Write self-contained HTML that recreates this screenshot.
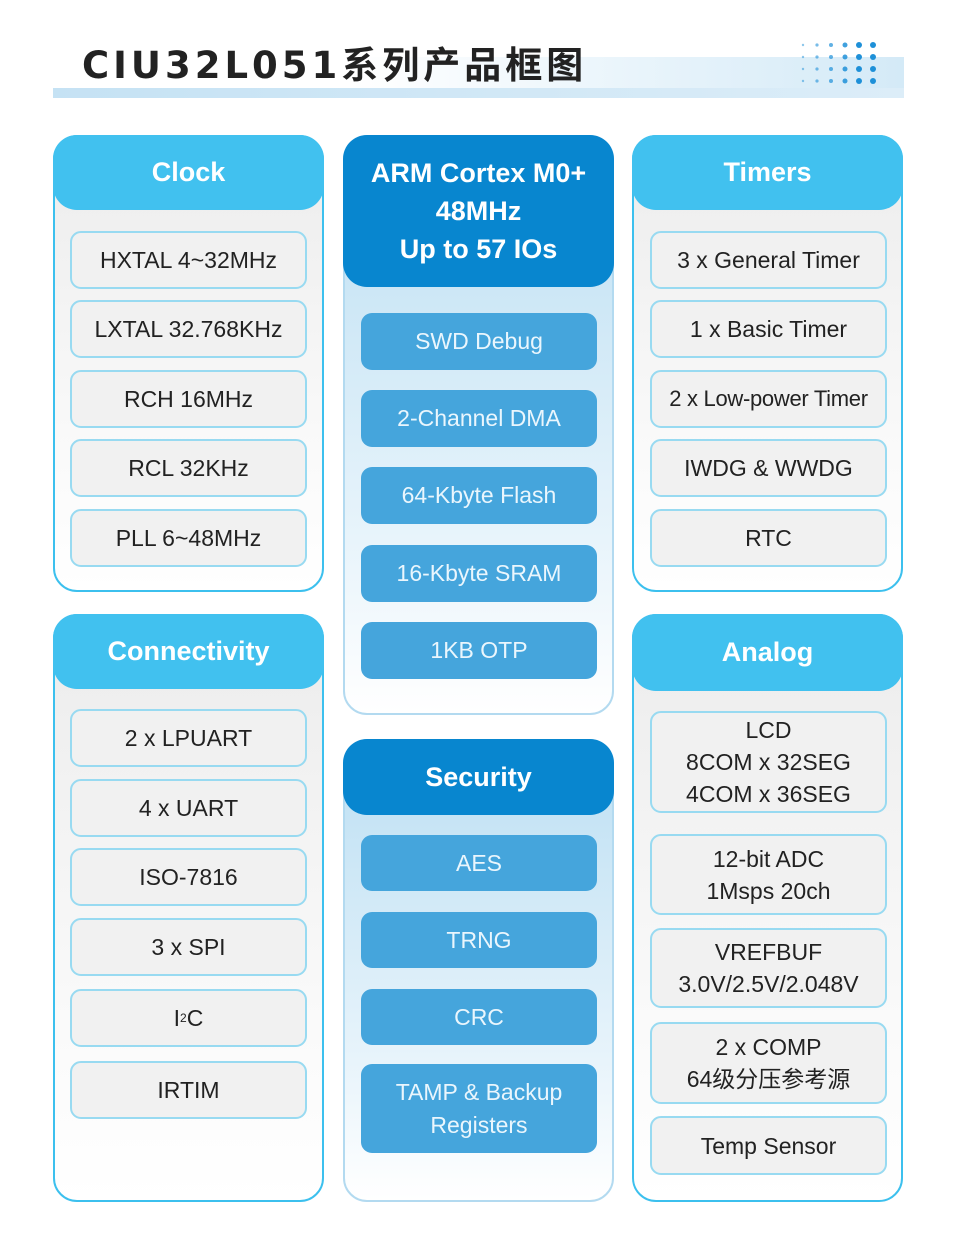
<!DOCTYPE html>
<html><head><meta charset="utf-8"><style>
body{margin:0;width:955px;height:1260px;background:#fff;position:relative;overflow:hidden;font-family:"Liberation Sans","Noto Sans CJK SC",sans-serif}
.a{position:absolute;box-sizing:border-box}
.panel{border:2px solid #3cc0ee;border-radius:24px;background:linear-gradient(#ececec,#fafafa 70%,#fff)}
.cpanel{border:2px solid #b3daf0;border-radius:24px;background:linear-gradient(#bcdff3,#e8f4fb 70%,#fff)}
.hd{border-radius:24px;background:#41c1ef;color:#fff;font-weight:bold;font-size:27px;display:flex;align-items:center;justify-content:center;text-align:center}
.chd{border-radius:24px;background:#0886cf;color:#fff;font-weight:bold;font-size:27px;display:flex;align-items:center;justify-content:center;text-align:center;line-height:38px}
.it{border:2px solid #98daf1;border-radius:11px;background:#f1f1f1;color:#222;font-size:23px;display:flex;align-items:center;justify-content:center;text-align:center;line-height:32px}
.ci{border-radius:11px;background:#45a5dc;color:#eaf6fd;font-size:23px;display:flex;align-items:center;justify-content:center;text-align:center;line-height:33px}
</style></head><body>
<div class="a" style="left:53px;top:57px;width:851px;height:41px;background:linear-gradient(90deg,#fff 0%,#fff 35%,#d4eaf7 100%)"></div>
<div class="a" style="left:53px;top:88px;width:851px;height:10px;background:linear-gradient(90deg,#c5e2f4,#dcedf8)"></div>
<div class="a" style="left:82px;top:42px;font-size:37px;font-weight:bold;color:#222;letter-spacing:4px;line-height:48px;font-family:'DejaVu Sans','Noto Sans CJK SC',sans-serif">CIU32L051系列产品框图</div>
<svg class="a" style="left:795px;top:38px" width="90" height="52">
<g fill="#1e90d8">
<circle cx="8" cy="7" r="1.2" opacity=".5"/><circle cx="22" cy="7" r="1.6" opacity=".6"/><circle cx="36" cy="7" r="2" opacity=".7"/><circle cx="50" cy="7" r="2.5" opacity=".85"/><circle cx="64" cy="7" r="3"/><circle cx="78" cy="7" r="3"/>
<circle cx="8" cy="19" r="1.2" opacity=".5"/><circle cx="22" cy="19" r="1.6" opacity=".6"/><circle cx="36" cy="19" r="2" opacity=".7"/><circle cx="50" cy="19" r="2.5" opacity=".85"/><circle cx="64" cy="19" r="3"/><circle cx="78" cy="19" r="3"/>
<circle cx="8" cy="31" r="1.2" opacity=".5"/><circle cx="22" cy="31" r="1.6" opacity=".6"/><circle cx="36" cy="31" r="2" opacity=".7"/><circle cx="50" cy="31" r="2.5" opacity=".85"/><circle cx="64" cy="31" r="3"/><circle cx="78" cy="31" r="3"/>
<circle cx="8" cy="43" r="1.2" opacity=".5"/><circle cx="22" cy="43" r="1.6" opacity=".6"/><circle cx="36" cy="43" r="2" opacity=".7"/><circle cx="50" cy="43" r="2.5" opacity=".85"/><circle cx="64" cy="43" r="3"/><circle cx="78" cy="43" r="3"/>
</g></svg>

<div class="a panel" style="left:53px;top:135px;width:271px;height:457px"></div>
<div class="a hd" style="left:53px;top:135px;width:271px;height:75px">Clock</div>
<div class="a it" style="left:70px;top:231px;width:237px;height:58px">HXTAL 4~32MHz</div>
<div class="a it" style="left:70px;top:300px;width:237px;height:58px">LXTAL 32.768KHz</div>
<div class="a it" style="left:70px;top:370px;width:237px;height:58px">RCH 16MHz</div>
<div class="a it" style="left:70px;top:439px;width:237px;height:58px">RCL 32KHz</div>
<div class="a it" style="left:70px;top:509px;width:237px;height:58px">PLL 6~48MHz</div>

<div class="a panel" style="left:53px;top:614px;width:271px;height:588px"></div>
<div class="a hd" style="left:53px;top:614px;width:271px;height:75px">Connectivity</div>
<div class="a it" style="left:70px;top:709px;width:237px;height:58px">2 x LPUART</div>
<div class="a it" style="left:70px;top:779px;width:237px;height:58px">4 x UART</div>
<div class="a it" style="left:70px;top:848px;width:237px;height:58px">ISO-7816</div>
<div class="a it" style="left:70px;top:918px;width:237px;height:58px">3 x SPI</div>
<div class="a it" style="left:70px;top:989px;width:237px;height:58px">I<sup style="font-size:12px;line-height:0">2</sup>C</div>
<div class="a it" style="left:70px;top:1061px;width:237px;height:58px">IRTIM</div>

<div class="a cpanel" style="left:343px;top:135px;width:271px;height:580px"></div>
<div class="a chd" style="left:343px;top:135px;width:271px;height:152px">ARM Cortex M0+<br>48MHz<br>Up to 57 IOs</div>
<div class="a ci" style="left:361px;top:313px;width:236px;height:57px">SWD Debug</div>
<div class="a ci" style="left:361px;top:390px;width:236px;height:57px">2-Channel DMA</div>
<div class="a ci" style="left:361px;top:467px;width:236px;height:57px">64-Kbyte Flash</div>
<div class="a ci" style="left:361px;top:545px;width:236px;height:57px">16-Kbyte SRAM</div>
<div class="a ci" style="left:361px;top:622px;width:236px;height:57px">1KB OTP</div>

<div class="a cpanel" style="left:343px;top:739px;width:271px;height:463px"></div>
<div class="a chd" style="left:343px;top:739px;width:271px;height:76px">Security</div>
<div class="a ci" style="left:361px;top:835px;width:236px;height:56px">AES</div>
<div class="a ci" style="left:361px;top:912px;width:236px;height:56px">TRNG</div>
<div class="a ci" style="left:361px;top:989px;width:236px;height:56px">CRC</div>
<div class="a ci" style="left:361px;top:1064px;width:236px;height:89px">TAMP &amp; Backup<br>Registers</div>

<div class="a panel" style="left:632px;top:135px;width:271px;height:457px"></div>
<div class="a hd" style="left:632px;top:135px;width:271px;height:75px">Timers</div>
<div class="a it" style="left:650px;top:231px;width:237px;height:58px">3 x General Timer</div>
<div class="a it" style="left:650px;top:300px;width:237px;height:58px">1 x Basic Timer</div>
<div class="a it" style="left:650px;top:370px;width:237px;height:58px;font-size:22px;letter-spacing:-0.3px">2 x Low-power Timer</div>
<div class="a it" style="left:650px;top:439px;width:237px;height:58px">IWDG &amp; WWDG</div>
<div class="a it" style="left:650px;top:509px;width:237px;height:58px">RTC</div>

<div class="a panel" style="left:632px;top:614px;width:271px;height:588px"></div>
<div class="a hd" style="left:632px;top:614px;width:271px;height:77px">Analog</div>
<div class="a it" style="left:650px;top:711px;width:237px;height:102px">LCD<br>8COM x 32SEG<br>4COM x 36SEG</div>
<div class="a it" style="left:650px;top:834px;width:237px;height:81px">12-bit ADC<br>1Msps 20ch</div>
<div class="a it" style="left:650px;top:928px;width:237px;height:80px">VREFBUF<br>3.0V/2.5V/2.048V</div>
<div class="a it" style="left:650px;top:1022px;width:237px;height:82px">2 x COMP<br>64级分压参考源</div>
<div class="a it" style="left:650px;top:1116px;width:237px;height:59px">Temp Sensor</div>
</body></html>
